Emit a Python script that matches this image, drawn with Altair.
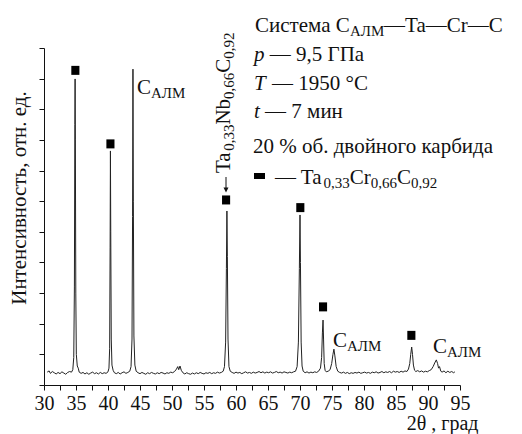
import altair as alt
import pandas as pd

# ---- data ----
two_theta = [30.5, 30.8, 31.0, 31.3, 31.6, 31.9, 32.2, 32.5, 32.8, 33.1, 33.4, 33.7, 34.0, 34.3,
             34.5, 34.65, 34.75, 34.82, 34.86, 34.9, 34.97, 35.05, 35.2, 35.35, 35.5, 35.8, 36.1, 36.4,
             36.7, 37.0, 37.3, 37.6, 37.9, 38.2, 38.5, 38.8, 39.1, 39.4, 39.7, 40.0,
             40.15, 40.26, 40.33, 40.38, 40.43, 40.51, 40.62, 40.8, 41.0, 41.3, 41.6, 41.9, 42.2, 42.5,
             42.8, 43.1, 43.4,
             43.6, 43.75, 43.84, 43.9, 43.96, 44.05, 44.2, 44.4, 44.7, 45.0, 45.3, 45.6, 45.9, 46.2,
             46.5, 46.8, 47.1, 47.4, 47.7, 48.0, 48.3, 48.6, 48.9, 49.2, 49.5, 49.8, 50.1, 50.4,
             50.7, 50.9, 51.05, 51.25, 51.45, 51.7, 52.0, 52.3, 52.6, 52.9, 53.2, 53.5, 53.8, 54.1,
             54.4, 54.7, 55.0, 55.3, 55.6, 55.9, 56.2, 56.5, 56.8, 57.1, 57.4, 57.7, 58.0,
             58.2, 58.38, 58.5, 58.58, 58.65, 58.75, 58.9, 59.1, 59.4, 59.7, 60.0, 60.3, 60.6, 60.9,
             61.2, 61.5, 61.8, 62.1, 62.4, 62.7, 63.0, 63.3, 63.6, 63.9, 64.2, 64.5, 64.8, 65.1,
             65.4, 65.7, 66.0, 66.3, 66.6, 66.9, 67.2, 67.5, 67.8, 68.1, 68.4, 68.7, 69.0, 69.3,
             69.55, 69.75, 69.9, 70.0, 70.07, 70.18, 70.32, 70.5, 70.8, 71.1, 71.4, 71.7, 72.0, 72.3,
             72.6, 72.9, 73.2,
             73.38, 73.5, 73.6, 73.68, 73.78, 73.92, 74.1, 74.4, 74.7, 74.95, 75.15, 75.3, 75.45,
             75.65, 75.9, 76.2, 76.5, 76.8, 77.1, 77.4, 77.7, 78.0, 78.3, 78.6, 78.9, 79.2, 79.5,
             79.8, 80.1, 80.4, 80.7, 81.0, 81.3, 81.6, 81.9, 82.2, 82.5, 82.8, 83.1, 83.4, 83.7,
             84.0, 84.3, 84.6, 84.9, 85.2, 85.5, 85.8, 86.1, 86.4, 86.7, 86.95,
             87.15, 87.3, 87.45, 87.58, 87.72, 87.9, 88.1, 88.4, 88.7, 89.0, 89.3, 89.6, 89.9, 90.2,
             90.5, 90.8, 91.05, 91.3, 91.5, 91.65, 91.8, 92.0, 92.2, 92.5, 92.8, 93.1, 93.4, 93.7,
             94.0, 94.2]
intensity = [0.42, 0.46, 0.38, 0.44, 0.40, 0.36, 0.41, 0.37, 0.43, 0.39, 0.35, 0.41, 0.44, 0.42,
             0.50, 0.90, 3.20, 8.50, 9.99, 8.00, 3.00, 1.00, 0.62, 0.55, 0.42, 0.38, 0.41, 0.36,
             0.40, 0.35, 0.39, 0.42, 0.37, 0.40, 0.36, 0.41, 0.37, 0.40, 0.38, 0.43,
             0.55, 1.20, 4.50, 7.64, 5.00, 1.50, 0.65, 0.48, 0.40, 0.37, 0.41, 0.36, 0.40, 0.43,
             0.38, 0.41, 0.45,
             0.60, 1.50, 5.50, 10.31, 6.00, 1.60, 0.65, 0.45, 0.40, 0.37, 0.41, 0.38, 0.35, 0.40,
             0.37, 0.41, 0.38, 0.36, 0.40, 0.37, 0.41, 0.39, 0.36, 0.40, 0.38, 0.42, 0.40, 0.44,
             0.52, 0.60, 0.50, 0.62, 0.48, 0.40, 0.36, 0.40, 0.37, 0.35, 0.39, 0.36, 0.40, 0.37,
             0.41, 0.38, 0.36, 0.40, 0.38, 0.41, 0.37, 0.40, 0.38, 0.42, 0.39, 0.41, 0.45,
             0.60, 1.40, 3.80, 5.68, 4.20, 1.50, 0.60, 0.45, 0.41, 0.38, 0.42, 0.39, 0.41, 0.37,
             0.40, 0.43, 0.39, 0.41, 0.38, 0.42, 0.39, 0.41, 0.44, 0.40, 0.43, 0.39, 0.42, 0.40,
             0.43, 0.39, 0.41, 0.44, 0.40, 0.42, 0.39, 0.43, 0.41, 0.39, 0.42, 0.40, 0.43, 0.45,
             0.60, 1.40, 3.80, 5.55, 4.00, 1.40, 0.62, 0.45, 0.40, 0.43, 0.39, 0.42, 0.40, 0.43,
             0.41, 0.45, 0.55,
             0.90, 1.70, 2.12, 1.50, 0.70, 0.48, 0.43, 0.45, 0.50, 0.70, 1.00, 1.17, 0.95,
             0.60, 0.45, 0.41, 0.39, 0.42, 0.38, 0.41, 0.37, 0.40, 0.38, 0.41, 0.39, 0.42, 0.38,
             0.40, 0.42, 0.39, 0.41, 0.38, 0.42, 0.40, 0.43, 0.39, 0.41, 0.44, 0.40, 0.43, 0.41,
             0.44, 0.40, 0.45, 0.42, 0.44, 0.41, 0.45, 0.42, 0.46, 0.44, 0.52,
             0.70, 1.00, 1.24, 1.00, 0.65, 0.48, 0.44, 0.47, 0.43, 0.46, 0.42, 0.45, 0.43, 0.47,
             0.50, 0.60, 0.72, 0.82, 0.70, 0.55, 0.60, 0.45, 0.42, 0.46, 0.40, 0.45, 0.41, 0.44,
             0.40, 0.43]

marker_x = [34.9, 40.38, 58.45, 70.05, 73.6, 87.4]
marker_y = [10.27, 7.87, 6.04, 5.79, 2.55, 1.62]

x_ticks = [30 + 2.5 * i for i in range(27)]
y_ticks = list(range(12))

# ---- geometry helpers (plot area 416 x 337, origin at page 44,48) ----
X0, X1, Y0, Y1 = 30, 95, 0, 11
PW, PH = 416, 337
OX, OY = 44, 48


def px2x(px):
    return X0 + (px - OX) * (X1 - X0) / PW


def py2y(py):
    return Y1 - (py - OY) * (Y1 - Y0) / PH


# approximate advance widths (em) of Liberation Serif
CW = {' ': 0.25, ',': 0.25, '.': 0.25, '%': 0.833, '°': 0.4, '—': 1.0,
      'T': 0.611, 'a': 0.444, 'C': 0.667, 'r': 0.333, 'N': 0.722, 'b': 0.5,
      'p': 0.5, 't': 0.278, 'С': 0.667, 'и': 0.535, 'с': 0.444, 'т': 0.434,
      'е': 0.444, 'м': 0.635, 'а': 0.444, 'А': 0.722, 'Л': 0.667, 'М': 0.889,
      'Г': 0.603, 'П': 0.722, 'н': 0.535, 'о': 0.5, 'б': 0.5, 'д': 0.5,
      'в': 0.472, 'й': 0.535, 'г': 0.41, 'к': 0.5, 'р': 0.5}
for d in '0123456789':
    CW[d] = 0.5

MAIN, SUB = 21, 15
SUBDROP = 4


def tw(s, size):
    return sum(CW.get(c, 0.5) for c in s) * size


rows_h = []   # horizontal texts
rows_v = []   # rotated texts


def place(segs, px, py):
    cx = px
    for text, kind in segs:
        size = SUB if kind == 'sub' else MAIN
        if kind == 'gap':
            cx += tw(text, size)
            continue
        dy = SUBDROP if kind == 'sub' else 0
        rows_h.append(dict(x=px2x(cx), y=py2y(py + dy), t=text, kind=kind, size=size))
        cx += tw(text, size)


def place_v(segs, px, py):
    cy = py
    for text, kind in segs:
        size = SUB if kind == 'sub' else MAIN
        dx = SUBDROP if kind == 'sub' else 0
        rows_v.append(dict(x=px2x(px + dx), y=py2y(cy), t=text, kind=kind, size=size))
        cy -= tw(text, size)


place([("Система C", 'main'), ("АЛМ", 'sub'), ("—Ta—Cr—C", 'main')], 255, 32)
place([("p", 'ital'), (" ", 'gap'), ("— 9,5 ГПа", 'main')], 254, 61)
place([("T", 'ital'), (" ", 'gap'), ("— 1950 °C", 'main')], 254, 90)
place([("t", 'ital'), (" ", 'gap'), ("— 7 мин", 'main')], 254, 118)
place([("20 % об. двойного карбида", 'main')], 253, 153)
place([("— Ta", 'main'), ("0,33", 'sub'), ("Cr", 'main'), ("0,66", 'sub'),
       ("C", 'main'), ("0,92", 'sub')], 275, 184)
place([("C", 'main'), ("АЛМ", 'sub')], 137, 94)
place([("C", 'main'), ("АЛМ", 'sub')], 333, 347)
place([("C", 'main'), ("АЛМ", 'sub')], 433, 353)
place_v([("Ta", 'main'), ("0,33", 'sub'), ("Nb", 'main'), ("0,66", 'sub'),
         ("C", 'main'), ("0,92", 'sub')], 230, 173)

FONT = "Liberation Serif"
INK = "#111111"

xs = alt.Scale(domain=[X0, X1], nice=False, zero=False)
ys = alt.Scale(domain=[Y0, Y1], nice=False, zero=False)

common_ax = dict(labelFont=FONT, titleFont=FONT, labelColor=INK, titleColor=INK,
                 titleFontWeight="normal", labelFontWeight="normal",
                 domainColor=INK, tickColor=INK, domainWidth=1, tickWidth=1,
                 tickSize=5, grid=False, labelFlush=False, labelOverlap=False)
ax_x = alt.Axis(values=x_ticks, labelExpr="datum.value % 5 == 0 ? datum.label : ''",
                title="2θ , град", titleX=434, titleY=44, titleAlign="right",
                titleBaseline="alphabetic", labelBaseline="alphabetic", labelPadding=19,
                labelFontSize=20, titleFontSize=20, **common_ax)
ax_y = alt.Axis(values=y_ticks, labels=False, title="Интенсивность, отн. ед.",
                titleX=-19, titleY=149.5, titleAngle=270, titleAlign="center",
                titleBaseline="alphabetic", titleFontSize=21, **common_ax)


def X(field):
    return alt.X(field, scale=xs, axis=ax_x)


def Y(field):
    return alt.Y(field, scale=ys, axis=ax_y)


spec = pd.DataFrame({"tt": two_theta, "inten": intensity})
line = alt.Chart(spec).mark_line(color="#222222", strokeWidth=1, clip=True).encode(
    x=X("tt:Q"), y=Y("inten:Q"))

mk = pd.DataFrame({"tt": marker_x, "inten": marker_y})
markers = alt.Chart(mk).mark_point(shape="M-0.9,-1L0.9,-1L0.9,1L-0.9,1Z", size=81,
                                   filled=True, color="#000000", opacity=1).encode(
    x=X("tt:Q"), y=Y("inten:Q"))

legend_sq = alt.Chart(pd.DataFrame({"tt": [px2x(259.5)], "inten": [py2y(176)]})).mark_point(
    shape="M-1,-0.55L1,-0.55L1,0.55L-1,0.55Z", size=121, filled=True,
    color="#000000", opacity=1).encode(x=X("tt:Q"), y=Y("inten:Q"))

arrow_df = pd.DataFrame({"tt": [px2x(226)], "inten": [py2y(177)], "inten2": [py2y(189)]})
arrow_line = alt.Chart(arrow_df).mark_rule(color=INK, strokeWidth=1).encode(
    x=X("tt:Q"), y=Y("inten:Q"), y2="inten2:Q")
arrow_head = alt.Chart(pd.DataFrame({"tt": [px2x(226)], "inten": [py2y(190)]})).mark_point(
    shape="M-1,-1L1,-1L0,1Z", size=25, filled=True, color=INK, opacity=1).encode(
    x=X("tt:Q"), y=Y("inten:Q"))

dfh = pd.DataFrame(rows_h).rename(columns={"x": "tt", "y": "inten"})
dfv = pd.DataFrame(rows_v).rename(columns={"x": "tt", "y": "inten"})


def text_layer(df, style, angle=0):
    return alt.Chart(df).mark_text(align="left", baseline="alphabetic", font=FONT,
                                   fontStyle=style, color=INK, angle=angle).encode(
        x=X("tt:Q"), y=Y("inten:Q"),
        text="t:N", size=alt.Size("size:Q", scale=None, legend=None))


t_main = text_layer(dfh[dfh.kind != 'ital'], "normal")
t_ital = text_layer(dfh[dfh.kind == 'ital'], "italic")
t_rot = text_layer(dfv, "normal", angle=270)

chart = alt.layer(line, markers, legend_sq, arrow_line, arrow_head, t_main, t_ital, t_rot).properties(
    width=PW, height=PH,
    autosize=alt.AutoSizeParams(type="none"),
    padding={"left": OX - 8, "top": OY - 8, "right": 54, "bottom": 50},
    background="white",
).configure_view(strokeWidth=0)

chart.save("out.html", embed_options={"renderer": "svg", "actions": False})
